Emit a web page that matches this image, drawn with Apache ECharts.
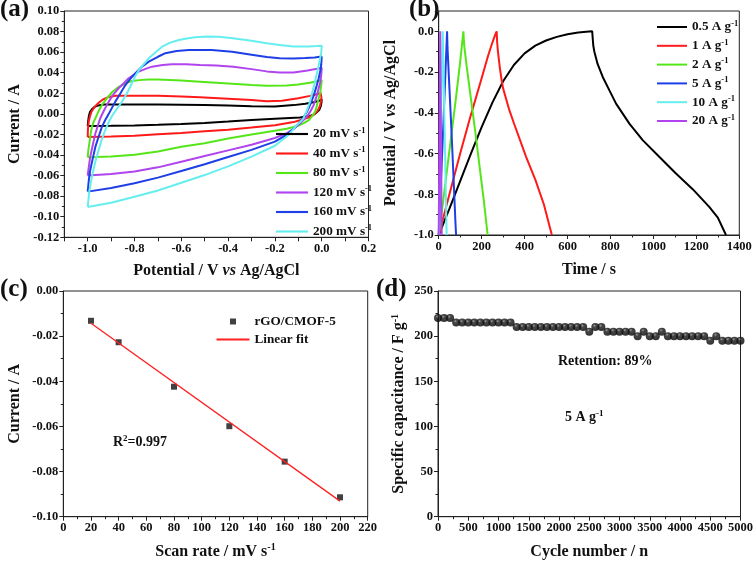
<!DOCTYPE html>
<html><head><meta charset="utf-8">
<script src="https://cdn.jsdelivr.net/npm/echarts@6/dist/echarts.min.js"></script>
<style>html,body{margin:0;padding:0;background:#fff}#c{width:756px;height:562px}</style>
</head><body><div id="c"></div>
<script>
// ---------- DATA ----------
// (a) CV loops [potential V, current A]
const cvNames = ['20 mV s-1','40 mV s-1','80 mV s-1','120 mV s-1','160 mV s-1','200 mV s-1'];
const cv20 = [[-1.0,-0.0118],[-0.998,-0.007],[-0.995,-0.002],[-0.99,0.002],[-0.982,0.0045],[-0.97,0.0068],[-0.955,0.0082],[-0.93,0.009],[-0.9,0.0092],[-0.8,0.0092],[-0.7,0.009],[-0.6,0.0088],[-0.5,0.0086],[-0.4,0.0081],[-0.3,0.0075],[-0.2,0.0072],[-0.12,0.0085],[-0.07,0.0098],[-0.03,0.0115],[-0.01,0.0128],[0,0.0142],[-0.001,0.011],[-0.004,0.0075],[-0.01,0.004],[-0.021,0.0015],[-0.035,-0.0008],[-0.05,-0.002],[-0.093,-0.0035],[-0.2,-0.0047],[-0.3,-0.006],[-0.4,-0.0075],[-0.5,-0.0089],[-0.6,-0.0098],[-0.7,-0.0106],[-0.8,-0.0112],[-0.9,-0.0116],[-1.0,-0.0118]];
const cv40 = [[-1.0,-0.0225],[-0.999,-0.015],[-0.996,-0.008],[-0.99,-0.002],[-0.984,0.002],[-0.97,0.007],[-0.953,0.0108],[-0.935,0.014],[-0.91,0.0165],[-0.88,0.0175],[-0.8,0.0177],[-0.7,0.0175],[-0.6,0.0168],[-0.52,0.0161],[-0.4,0.0148],[-0.3,0.0135],[-0.235,0.0122],[-0.17,0.0128],[-0.1,0.0152],[-0.05,0.0175],[-0.02,0.019],[-0.005,0.0205],[0,0.021],[-0.001,0.016],[-0.004,0.011],[-0.008,0.0075],[-0.015,0.004],[-0.025,0.001],[-0.04,-0.0018],[-0.06,-0.0038],[-0.093,-0.0062],[-0.12,-0.008],[-0.2,-0.011],[-0.3,-0.0133],[-0.4,-0.0155],[-0.5,-0.017],[-0.6,-0.0185],[-0.7,-0.0198],[-0.8,-0.0212],[-0.9,-0.022],[-1.0,-0.0225]];
const cv80 = [[-1.0,-0.0423],[-0.997,-0.035],[-0.993,-0.0286],[-0.987,-0.019],[-0.982,-0.0124],[-0.974,-0.0075],[-0.967,-0.0043],[-0.955,0.002],[-0.939,0.0087],[-0.92,0.0145],[-0.896,0.021],[-0.875,0.025],[-0.853,0.028],[-0.83,0.0305],[-0.811,0.032],[-0.78,0.0328],[-0.74,0.0333],[-0.7,0.0335],[-0.6,0.0325],[-0.52,0.0313],[-0.4,0.0295],[-0.3,0.028],[-0.235,0.0274],[-0.15,0.0276],[-0.1,0.0285],[-0.05,0.0303],[-0.02,0.0318],[0,0.033],[-0.002,0.028],[-0.006,0.021],[-0.0128,0.0152],[-0.02,0.0085],[-0.027,0.0025],[-0.04,-0.002],[-0.055,-0.006],[-0.075,-0.0088],[-0.093,-0.0108],[-0.12,-0.0128],[-0.15,-0.0145],[-0.2,-0.0165],[-0.3,-0.020],[-0.4,-0.024],[-0.5,-0.0285],[-0.6,-0.032],[-0.7,-0.0365],[-0.8,-0.0398],[-0.9,-0.0415],[-1.0,-0.0423]];
const cv120 = [[-1.0,-0.060],[-0.995,-0.051],[-0.989,-0.0416],[-0.978,-0.030],[-0.967,-0.0189],[-0.956,-0.011],[-0.946,-0.004],[-0.93,0.0035],[-0.91,0.0119],[-0.89,0.019],[-0.868,0.0249],[-0.845,0.030],[-0.825,0.0346],[-0.8,0.0385],[-0.782,0.041],[-0.75,0.044],[-0.725,0.0459],[-0.68,0.0474],[-0.64,0.0482],[-0.58,0.0482],[-0.52,0.0476],[-0.45,0.047],[-0.378,0.0459],[-0.3,0.0435],[-0.235,0.0413],[-0.18,0.0402],[-0.12,0.0403],[-0.06,0.0422],[-0.02,0.0438],[0,0.0449],[-0.002,0.038],[-0.006,0.031],[-0.0128,0.0249],[-0.022,0.017],[-0.034,0.0087],[-0.048,0.0025],[-0.063,-0.0027],[-0.078,-0.006],[-0.093,-0.0093],[-0.12,-0.0145],[-0.15,-0.019],[-0.2,-0.0235],[-0.3,-0.030],[-0.4,-0.0355],[-0.5,-0.041],[-0.6,-0.0465],[-0.7,-0.052],[-0.8,-0.056],[-0.9,-0.0585],[-1.0,-0.060]];
const cv160 = [[-1.0,-0.0756],[-0.995,-0.064],[-0.989,-0.0545],[-0.978,-0.043],[-0.967,-0.0319],[-0.953,-0.022],[-0.939,-0.0124],[-0.925,-0.006],[-0.91,0.000],[-0.882,0.0119],[-0.86,0.020],[-0.839,0.028],[-0.818,0.034],[-0.797,0.0394],[-0.77,0.0455],[-0.739,0.0508],[-0.7,0.0555],[-0.668,0.059],[-0.62,0.0612],[-0.568,0.0621],[-0.5,0.0622],[-0.47,0.0621],[-0.383,0.0603],[-0.3,0.0575],[-0.235,0.0552],[-0.18,0.054],[-0.121,0.0538],[-0.07,0.0543],[-0.03,0.0548],[0,0.0557],[-0.002,0.048],[-0.006,0.042],[-0.0128,0.0346],[-0.022,0.027],[-0.034,0.018],[-0.048,0.0095],[-0.063,0.002],[-0.077,-0.003],[-0.091,-0.0076],[-0.11,-0.0125],[-0.135,-0.0175],[-0.15,-0.0205],[-0.2,-0.027],[-0.3,-0.035],[-0.4,-0.042],[-0.5,-0.049],[-0.6,-0.0555],[-0.7,-0.062],[-0.8,-0.0675],[-0.9,-0.072],[-1.0,-0.0756]];
const cv200 = [[-1.0,-0.0905],[-0.993,-0.075],[-0.982,-0.061],[-0.968,-0.047],[-0.953,-0.035],[-0.94,-0.025],[-0.925,-0.0157],[-0.91,-0.008],[-0.896,-0.002],[-0.875,0.005],[-0.853,0.012],[-0.83,0.021],[-0.811,0.0297],[-0.797,0.0365],[-0.78,0.043],[-0.76,0.0485],[-0.739,0.054],[-0.71,0.06],[-0.682,0.0653],[-0.65,0.069],[-0.611,0.0718],[-0.57,0.0735],[-0.54,0.0745],[-0.49,0.0752],[-0.44,0.075],[-0.38,0.0735],[-0.3,0.071],[-0.235,0.0686],[-0.18,0.067],[-0.121,0.0655],[-0.06,0.0655],[-0.02,0.066],[0,0.0663],[-0.001,0.062],[-0.003,0.058],[-0.007,0.054],[-0.015,0.045],[-0.022,0.038],[-0.029,0.031],[-0.04,0.021],[-0.05,0.0119],[-0.063,0.0035],[-0.078,-0.0043],[-0.092,-0.008],[-0.107,-0.0112],[-0.12,-0.0145],[-0.135,-0.0185],[-0.15,-0.022],[-0.2,-0.031],[-0.3,-0.0415],[-0.4,-0.051],[-0.5,-0.0595],[-0.6,-0.067],[-0.7,-0.0745],[-0.8,-0.0805],[-0.9,-0.0865],[-1.0,-0.0905]];
const cvData = [cv20, cv40, cv80, cv120, cv160, cv200];

// (b) charge/discharge [time s, potential V]
const gcdNames = ['0.5 A g-1','1 A g-1','2 A g-1','5 A g-1','10 A g-1','20 A g-1'];
const gcd05 = [[0,-1.0],[10,-0.975],[25,-0.935],[50,-0.87],[100,-0.735],[150,-0.60],[200,-0.47],[250,-0.35],[300,-0.245],[350,-0.165],[400,-0.108],[450,-0.07],[500,-0.045],[550,-0.027],[600,-0.014],[650,-0.006],[700,-0.001],[715,0],[717,-0.03],[720,-0.07],[725,-0.1],[740,-0.16],[764,-0.224],[795,-0.29],[826,-0.355],[888,-0.453],[950,-0.534],[1027,-0.616],[1105,-0.698],[1183,-0.775],[1260,-0.862],[1300,-0.915],[1338,-1.0]];
const gcd1 = [[0,-1.0],[25,-0.90],[50,-0.80],[100,-0.60],[150,-0.41],[200,-0.23],[230,-0.12],[250,-0.055],[262,-0.02],[270,0],[272,-0.05],[276,-0.10],[285,-0.18],[293,-0.24],[300,-0.28],[329,-0.387],[350,-0.45],[407,-0.616],[450,-0.728],[490,-0.85],[527,-1.0]];
const gcd2 = [[0,-1.0],[20,-0.84],[40,-0.67],[60,-0.50],[80,-0.33],[100,-0.15],[110,-0.05],[115,0],[117,-0.04],[120,-0.08],[130,-0.17],[150,-0.33],[170,-0.49],[190,-0.66],[210,-0.83],[228,-1.0]];
const gcd5 = [[0,-1.0],[10,-0.75],[20,-0.50],[30,-0.24],[39,0],[41,-0.08],[50,-0.28],[60,-0.50],[70,-0.74],[78,-0.94],[81,-1.0]];
const gcd10 = [[1,-1.0],[6,-0.68],[12,-0.34],[19,0],[21,-0.12],[28,-0.50],[37,-1.0]];
const gcd20 = [[0,-1.0],[4,-0.45],[7,0],[10,-0.45],[14,-1.0]];
const gcdData = [gcd05, gcd1, gcd2, gcd5, gcd10, gcd20];

// (c) scan-rate dependence
const scanRate = [20, 40, 80, 120, 160, 200];
const peakCurrent = [-0.0132, -0.0227, -0.0424, -0.0599, -0.0756, -0.0914];
const fitX = [20, 200];
const fitY = [-0.0143, -0.0931];

// (d) cycling stability
const cycleNo = [0,100,200,300,400,500,600,700,800,900,1000,1100,1200,1300,1400,1500,1600,1700,1800,1900,2000,2100,2200,2300,2400,2500,2600,2700,2800,2900,3000,3100,3200,3300,3400,3500,3600,3700,3800,3900,4000,4100,4200,4300,4400,4500,4600,4700,4800,4900,5000];
const capacitance = [220,220,220,215,215,215,215,215,215,215,215,215,215,210,210,210,210,210,210,210,210,210,210,210,210,205,210,210,205,205,205,205,205,200,205,200,200,205,200,200,200,200,200,200,200,195,200,195,195,195,195];

// ---------- STYLE ----------
const F = "'Liberation Serif','Times New Roman',serif";
const TXT = '#111';
const AXC = '#222';
const cvColors = ['#000000','#ff1a1a','#55e61a','#b044ee','#1f3fe6','#66eeee'];
const gcdColors = ['#000000','#ff1a1a','#55e61a','#1f3fe6','#66eeee','#b044ee'];
const LINE_ICON = 'path://M0,0L33,0L33,2.2L0,2.2Z';
const SQUARE_ICON = 'path://M0,0L0.01,0M33,14L33.01,14M13.5,4L19.5,4L19.5,10L13.5,10Z';

const richBase = {
  n: {fontFamily: F, fontWeight: 'bold', fontSize: 16, color: TXT, lineHeight: 18},
  i: {fontFamily: F, fontWeight: 'bold', fontStyle: 'italic', fontSize: 16, color: TXT, lineHeight: 18},
  s: {fontFamily: F, fontWeight: 'bold', fontSize: 10, color: TXT, lineHeight: 10, verticalAlign: 'top'}
};
const richLeg = {
  n: {fontFamily: F, fontWeight: 'bold', fontSize: 13.2, color: TXT, lineHeight: 16},
  s: {fontFamily: F, fontWeight: 'bold', fontSize: 8.5, color: TXT, lineHeight: 8, verticalAlign: 'top'}
};
function supFmt(name) {
  const m = name.match(/^(.*)(-1)$/);
  return m ? '{n|' + m[1] + '}{s|' + m[2] + '}' : '{n|' + name + '}';
}

function axis(grid, min, max, interval, dec, name, nameGap, opts) {
  return Object.assign({
    type: 'value', gridIndex: grid, min: min, max: max, interval: interval,
    name: name, nameLocation: 'middle', nameGap: nameGap,
    nameTextStyle: {rich: richBase},
    axisLine: {show: true, onZero: false, lineStyle: {color: AXC, width: 1}},
    axisTick: {show: true, inside: false, length: 4, lineStyle: {color: AXC}},
    minorTick: {show: true, splitNumber: 2, length: 2.5, lineStyle: {color: AXC}},
    splitLine: {show: false},
    axisLabel: {fontFamily: F, fontWeight: 'bold', fontSize: 12.5, color: TXT, margin: 5,
      formatter: v => (Math.abs(v) < 1e-9 ? 0 : v).toFixed(dec)}
  }, opts || {});
}

const xAxes = [
  axis(0, -1.1, 0.2, 0.1, 1, '{n|Potential / V }{i|vs}{n| Ag/AgCl}', 25, {
    minorTick: {show: false},
    axisLabel: {fontFamily: F, fontWeight: 'bold', fontSize: 12.5, color: TXT, margin: 5,
      formatter: v => { const k = Math.round(v * 10); return (k % 2 === 0) ? (k === 0 ? '0.0' : (k / 10).toFixed(1)) : ''; }}
  }),
  axis(1, 0, 1400, 200, 0, '{n|Time / s}', 26),
  axis(2, 0, 220, 20, 0, '{n|Scan rate / mV s}{s|-1}', 26),
  axis(3, 0, 5000, 500, 0, '{n|Cycle number / n}', 26)
];
const yAxes = [
  axis(0, -0.12, 0.10, 0.02, 2, '{n|Current / A}', 40),
  axis(1, -1.0, 0.1, 0.2, 1, '{n|Potential / V }{i|vs}{n| Ag/AgCl}', 39, {}),
  axis(2, -0.10, 0.00, 0.02, 2, '{n|Current / A}', 39),
  axis(3, 0, 250, 50, 0, '{n|Specific capacitance / F g}{s|-1}', 30)
];
yAxes[1].axisLabel.showMaxLabel = false;

const series = [];
cvData.forEach((d, i) => series.push({
  type: 'line', name: cvNames[i], xAxisIndex: 0, yAxisIndex: 0, data: d,
  symbol: 'none', smooth: false, lineStyle: {color: cvColors[i], width: 2}, itemStyle: {color: cvColors[i]}
}));
gcdData.forEach((d, i) => series.push({
  type: 'line', name: gcdNames[i], xAxisIndex: 1, yAxisIndex: 1, data: d,
  symbol: 'none', lineStyle: {color: gcdColors[i], width: 2}, itemStyle: {color: gcdColors[i]}
}));
series.push({
  type: 'line', name: 'Linear fit', xAxisIndex: 2, yAxisIndex: 2,
  data: fitX.map((x, i) => [x, fitY[i]]), symbol: 'none',
  lineStyle: {color: '#ff2020', width: 1.3}, itemStyle: {color: '#ff2020'}
});
series.push({
  type: 'scatter', name: 'rGO/CMOF-5', xAxisIndex: 2, yAxisIndex: 2,
  data: scanRate.map((x, i) => [x, peakCurrent[i]]), symbol: 'rect', symbolSize: 6,
  itemStyle: {color: '#111'}
});
series.push({
  type: 'scatter', name: 'capacitance', xAxisIndex: 3, yAxisIndex: 3,
  data: cycleNo.map((x, i) => [x, capacitance[i]]), symbol: 'circle', symbolSize: 8,
  itemStyle: {color: {type: 'radial', x: 0.4, y: 0.32, r: 0.7,
    colorStops: [{offset: 0, color: '#8a8a8a'}, {offset: 0.28, color: '#181818'}, {offset: 1, color: '#000'}]}},
  clip: false
});

const legendCommon = {
  orient: 'vertical', itemWidth: 33, itemHeight: 14, itemGap: 5, icon: LINE_ICON,
  textStyle: {rich: richLeg}, formatter: supFmt, selectedMode: false, padding: 0
};

const option = {
  animation: false,
  backgroundColor: '#fff',
  grid: [
    {left: 64.3, top: 11, width: 304.2, height: 226.3, show: true, borderColor: AXC, borderWidth: 1},
    {left: 438.7, top: 11, width: 300.6, height: 224, show: true, borderColor: AXC, borderWidth: 1},
    {left: 63.3, top: 291, width: 304.4, height: 225.7, show: true, borderColor: AXC, borderWidth: 1},
    {left: 438, top: 291, width: 304.7, height: 225.7, show: true, borderColor: AXC, borderWidth: 1}
  ],
  xAxis: xAxes,
  yAxis: yAxes,
  legend: [
    Object.assign({}, legendCommon, {left: 276, top: 126, data: cvNames, itemWidth: 32, itemGap: 5}),
    Object.assign({}, legendCommon, {left: 657, top: 19, data: gcdNames, itemWidth: 30, itemGap: 4.3}),
    Object.assign({}, legendCommon, {left: 216.5, top: 314.5, itemGap: 4.5,
      data: [{name: 'rGO/CMOF-5', icon: SQUARE_ICON}, 'Linear fit']})
  ],
  graphic: [
    {type: 'text', left: 0, top: -3, style: {text: '(a)', font: 'bold 25px ' + F, fill: TXT}},
    {type: 'text', left: 409, top: -3, style: {text: '(b)', font: 'bold 25px ' + F, fill: TXT}},
    {type: 'text', left: 0, top: 277, style: {text: '(c)', font: 'bold 25px ' + F, fill: TXT}},
    {type: 'text', left: 376, top: 277, style: {text: '(d)', font: 'bold 25px ' + F, fill: TXT}},
    {type: 'text', left: 113, top: 434, style: {text: '{n|R}{s|2}{n|=0.997}', rich: {
      n: {fontFamily: F, fontWeight: 'bold', fontSize: 14, fill: TXT, lineHeight: 16},
      s: {fontFamily: F, fontWeight: 'bold', fontSize: 9, fill: TXT, lineHeight: 9, verticalAlign: 'top'}}}},
    {type: 'text', left: 558, top: 354, style: {text: 'Retention: 89%', font: 'bold 14px ' + F, fill: TXT}},
    {type: 'text', left: 565, top: 409, style: {text: '{n|5 A g}{s|-1}', rich: {
      n: {fontFamily: F, fontWeight: 'bold', fontSize: 14, fill: TXT, lineHeight: 16},
      s: {fontFamily: F, fontWeight: 'bold', fontSize: 9, fill: TXT, lineHeight: 9, verticalAlign: 'top'}}}}
  ],
  series: series
};

const chart = echarts.init(document.getElementById('c'), null, {renderer: 'canvas'});
chart.setOption(option);
</script>
</body></html>
